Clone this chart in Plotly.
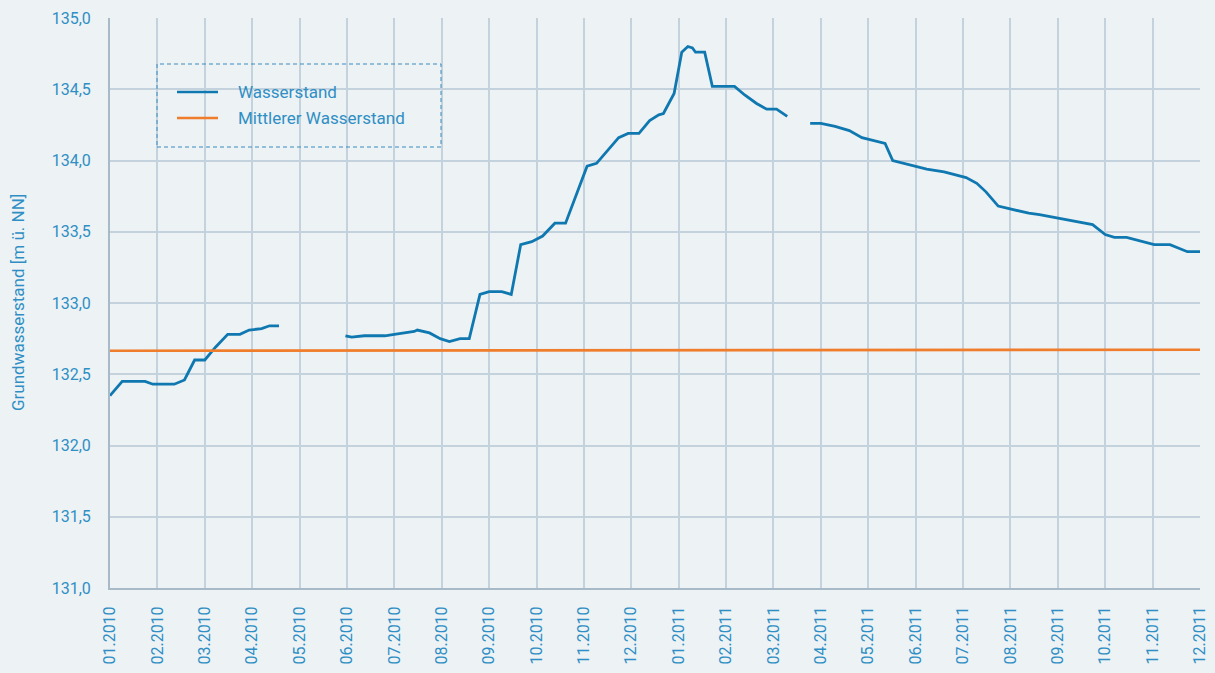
import calendar
import plotly.graph_objects as go

# Measured groundwater level (m above sea level), None marks gaps in the record
dates = [
    "2010-01-01", "2010-01-09", "2010-01-24", "2010-01-29", "2010-02-11", "2010-02-17",
    "2010-02-23", "2010-03-01", "2010-03-08", "2010-03-16", "2010-03-24", "2010-03-30",
    "2010-04-07", "2010-04-12", "2010-04-18",
    None,
    "2010-05-31", "2010-06-04", "2010-06-12", "2010-06-25", "2010-07-01", "2010-07-14",
    "2010-07-16", "2010-07-24", "2010-07-31", "2010-08-06", "2010-08-13", "2010-08-19",
    "2010-08-26", "2010-09-01", "2010-09-09", "2010-09-15", "2010-09-21", "2010-09-28",
    "2010-10-05", "2010-10-13", "2010-10-20", "2010-11-03", "2010-11-09", "2010-11-15",
    "2010-11-23", "2010-11-29", "2010-12-06", "2010-12-13", "2010-12-19", "2010-12-22",
    "2010-12-29", "2011-01-03", "2011-01-07", "2011-01-10", "2011-01-12", "2011-01-18",
    "2011-01-23", "2011-02-06", "2011-02-12", "2011-02-19", "2011-02-25", "2011-03-03",
    "2011-03-10",
    None,
    "2011-03-25", "2011-04-01", "2011-04-10", "2011-04-19", "2011-04-27", "2011-05-05",
    "2011-05-12", "2011-05-17", "2011-05-25", "2011-05-31", "2011-06-08", "2011-06-19",
    "2011-06-27", "2011-07-03", "2011-07-10", "2011-07-16", "2011-07-24", "2011-07-28",
    "2011-08-05", "2011-08-13", "2011-08-20", "2011-08-30", "2011-09-12", "2011-09-23",
    "2011-10-01", "2011-10-07", "2011-10-15", "2011-10-23", "2011-11-02", "2011-11-12",
    "2011-11-23", "2011-12-01",
]
wasserstand = [
    132.35, 132.45, 132.45, 132.43, 132.43, 132.46,
    132.60, 132.60, 132.69, 132.78, 132.78, 132.81,
    132.82, 132.84, 132.84,
    None,
    132.77, 132.76, 132.77, 132.77, 132.78, 132.80,
    132.81, 132.79, 132.75, 132.73, 132.75, 132.75,
    133.06, 133.08, 133.08, 133.06, 133.41, 133.43,
    133.47, 133.56, 133.56, 133.96, 133.98, 134.06,
    134.16, 134.19, 134.19, 134.28, 134.32, 134.33,
    134.47, 134.76, 134.80, 134.79, 134.76, 134.76,
    134.52, 134.52, 134.46, 134.40, 134.36, 134.36,
    134.31,
    None,
    134.26, 134.26, 134.24, 134.21, 134.16, 134.14,
    134.12, 134.00, 133.98, 133.96, 133.94, 133.92,
    133.90, 133.88, 133.84, 133.78, 133.68, 133.67,
    133.65, 133.63, 133.62, 133.60, 133.57, 133.55,
    133.48, 133.46, 133.46, 133.44, 133.41, 133.41,
    133.36, 133.36,
]

# Long-term mean level
mittel_dates = ["2010-01-01", "2011-12-01"]
mittel_wert = [132.665, 132.672]

series_names = ["Wasserstand", "Mittlerer Wasserstand"]
y_title = "Grundwasserstand [m ü. NN]"

# Monthly tick labels
month_labels = [f"{m:02d}.{y}" for y in (2010, 2011) for m in range(1, 13)][:24]


def month_index(d):
    """Evenly spaced month axis: one unit per month, fraction by day."""
    if d is None:
        return None
    y, m, day = (int(p) for p in d.split("-"))
    dim = calendar.monthrange(y, m)[1]
    return (y - 2010) * 12 + (m - 1) + (day - 1) / dim


x_ws = [month_index(d) for d in dates]
x_mw = [month_index(d) for d in mittel_dates]

BLUE = "#0f78b0"
ORANGE = "#f07d2c"
TEXT = "#2f8fc4"
GRID = "#c3d2dd"
AXIS = "#a8bac8"
BG = "#edf2f5"
FONT = "Roboto"
COLORS = [BLUE, ORANGE]

fig = go.Figure()
fig.add_trace(go.Scatter(
    x=x_ws, y=wasserstand, mode="lines", name=series_names[0],
    line=dict(color=BLUE, width=2.8), connectgaps=False, showlegend=False,
))
fig.add_trace(go.Scatter(
    x=x_mw, y=mittel_wert, mode="lines", name=series_names[1],
    line=dict(color=ORANGE, width=2.6), showlegend=False,
))

# Legend drawn by hand inside a dashed frame (paper coordinates)
PW, PH = 1090.0, 570.0


def px(xp):
    return (xp - 110) / PW


def py(yp):
    return 1 - (yp - 18) / PH


fig.add_shape(
    type="rect", xref="paper", yref="paper",
    x0=px(157), x1=px(441), y0=py(147), y1=py(64),
    line=dict(color="#3a8cbf", width=1, dash="4px,3px"),
    fillcolor="rgba(0,0,0,0)", layer="above",
)
for i, (name, col) in enumerate(zip(series_names, COLORS)):
    yrow = 92 + 26 * i
    fig.add_shape(
        type="line", xref="paper", yref="paper",
        x0=px(177), x1=px(218), y0=py(yrow), y1=py(yrow),
        line=dict(color=col, width=2.6),
    )
    fig.add_annotation(
        x=px(236), y=py(yrow), xref="paper", yref="paper",
        text=name, showarrow=False, xanchor="left", yanchor="middle",
        font=dict(family=FONT, size=17, color=TEXT),
    )

# Y axis title
fig.add_annotation(
    x=px(18), y=0.5, xref="paper", yref="paper",
    text=y_title, textangle=-90, showarrow=False,
    xanchor="center", yanchor="middle",
    font=dict(family=FONT, size=17, color=TEXT),
)

fig.update_layout(
    width=1215, height=673,
    margin=dict(l=110, r=15, t=18, b=85),
    paper_bgcolor=BG, plot_bgcolor=BG,
    separators=",.",
    font=dict(family=FONT, color=TEXT, size=16),
    showlegend=False,
    xaxis=dict(
        range=[0, 23], tickmode="array",
        tickvals=list(range(24)), ticktext=month_labels,
        tickangle=-90, showgrid=True, gridcolor=GRID, gridwidth=1.5,
        showline=True, linecolor=AXIS, linewidth=2, zeroline=False,
        ticks="", tickfont=dict(family=FONT, size=16, color=TEXT),
        ticklabelstandoff=10, automargin=False,
    ),
    yaxis=dict(
        range=[131, 135], tickmode="linear", tick0=131, dtick=0.5,
        tickformat=".1f", showgrid=True, gridcolor=GRID, gridwidth=1.5,
        showline=True, linecolor=AXIS, linewidth=2, zeroline=False,
        ticks="", tickfont=dict(family=FONT, size=16, color=TEXT),
        ticklabelstandoff=14, automargin=False,
    ),
)

fig.write_html("out.html")
